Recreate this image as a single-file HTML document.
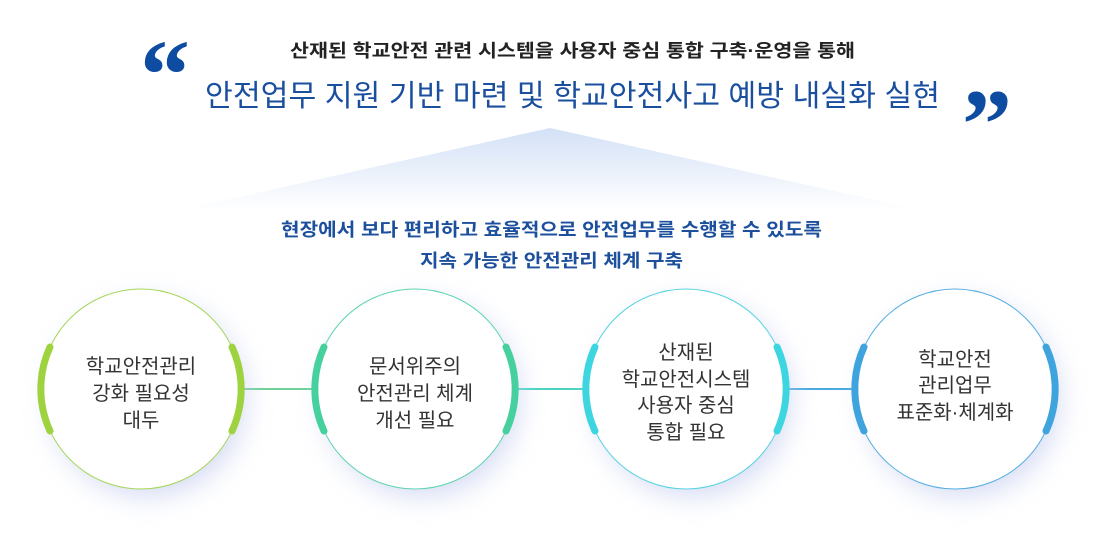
<!DOCTYPE html>
<html><head><meta charset="utf-8"><style>
html,body{margin:0;padding:0;background:#fff;}
body{width:1103px;height:538px;overflow:hidden;position:relative;font-family:"Liberation Sans","Noto Sans CJK KR",sans-serif;}
</style></head><body>
<svg width="1103" height="538" viewBox="0 0 1103 538" xmlns="http://www.w3.org/2000/svg" style="position:absolute;left:0;top:0">
<defs>
<linearGradient id="tri" x1="0" y1="0" x2="0" y2="1">
<stop offset="0" stop-color="#d3e1f7"/><stop offset="1" stop-color="#ffffff"/>
</linearGradient>
<filter id="sh" x="-50%" y="-50%" width="200%" height="200%">
<feGaussianBlur stdDeviation="14"/>
</filter>
</defs>
<polygon points="550,128 180,210 920,210" fill="url(#tri)"/>
<g font-family="Liberation Sans, Noto Sans CJK KR, sans-serif">
<text x="290" y="57" textLength="565" lengthAdjust="spacingAndGlyphs" font-size="18" font-weight="bold" fill="#222">산재된 학교안전 관련 시스템을 사용자 중심 통합 구축·운영을 통해</text>
<text x="205" y="106" textLength="735" lengthAdjust="spacingAndGlyphs" font-size="30" fill="#1a4f9f">안전업무 지원 기반 마련 및 학교안전사고 예방 내실화 실현</text>
<text x="281" y="236" textLength="541" lengthAdjust="spacingAndGlyphs" font-size="18" font-weight="bold" fill="#1c4f9c">현장에서 보다 편리하고 효율적으로 안전업무를 수행할 수 있도록</text>
<text x="420" y="267" textLength="263" lengthAdjust="spacingAndGlyphs" font-size="18" font-weight="bold" fill="#1c4f9c">지속 가능한 안전관리 체계 구축</text>
</g>
<text x="140" y="108" font-size="100" font-weight="bold" fill="#0d4ca0" font-family="Liberation Serif, serif">“</text>
<text x="962" y="158" font-size="100" font-weight="bold" fill="#0d4ca0" font-family="Liberation Serif, serif">”</text>
<line x1="242" y1="389" x2="315" y2="389" stroke="#6fd09a" stroke-width="2"/>
<line x1="515" y1="389" x2="586" y2="389" stroke="#48d4c4" stroke-width="2"/>
<line x1="786" y1="389" x2="855" y2="389" stroke="#4aa9dd" stroke-width="2"/>
<g font-family="Liberation Sans, Noto Sans CJK KR, sans-serif" font-size="20" fill="#333" text-anchor="middle">
<circle cx="148" cy="399" r="96" fill="#c7cff0" filter="url(#sh)" opacity="0.8"/>
<circle cx="141" cy="389" r="100" fill="#fff" stroke="#a6d65a" stroke-width="1"/>
<path d="M 50 347 A 101 101 0 0 0 50 431" fill="none" stroke="#9ed33f" stroke-width="7" stroke-linecap="round"/>
<path d="M 232 347 A 101 101 0 0 1 232 431" fill="none" stroke="#9ed33f" stroke-width="7" stroke-linecap="round"/>
<text x="141" y="373">학교안전관리</text><text x="141" y="400">강화 필요성</text><text x="141" y="427">대두</text>
<circle cx="422" cy="399" r="96" fill="#c7cff0" filter="url(#sh)" opacity="0.8"/>
<circle cx="415" cy="389" r="100" fill="#fff" stroke="#5fd4b0" stroke-width="1"/>
<path d="M 324 347 A 101 101 0 0 0 324 431" fill="none" stroke="#45d09e" stroke-width="7" stroke-linecap="round"/>
<path d="M 506 347 A 101 101 0 0 1 506 431" fill="none" stroke="#45d09e" stroke-width="7" stroke-linecap="round"/>
<text x="415" y="373">문서위주의</text><text x="415" y="400">안전관리 체계</text><text x="415" y="427">개선 필요</text>
<circle cx="693" cy="399" r="96" fill="#c7cff0" filter="url(#sh)" opacity="0.8"/>
<circle cx="686" cy="389" r="100" fill="#fff" stroke="#55d4e0" stroke-width="1"/>
<path d="M 595 347 A 101 101 0 0 0 595 431" fill="none" stroke="#3dd6e0" stroke-width="7" stroke-linecap="round"/>
<path d="M 777 347 A 101 101 0 0 1 777 431" fill="none" stroke="#3dd6e0" stroke-width="7" stroke-linecap="round"/>
<text x="686" y="359">산재된</text><text x="686" y="386">학교안전시스템</text><text x="686" y="412">사용자 중심</text><text x="686" y="439">통합 필요</text>
<circle cx="962" cy="399" r="96" fill="#c7cff0" filter="url(#sh)" opacity="0.8"/>
<circle cx="955" cy="389" r="100" fill="#fff" stroke="#55aee0" stroke-width="1"/>
<path d="M 864 347 A 101 101 0 0 0 864 431" fill="none" stroke="#3fa3dd" stroke-width="7" stroke-linecap="round"/>
<path d="M 1046 347 A 101 101 0 0 1 1046 431" fill="none" stroke="#3fa3dd" stroke-width="7" stroke-linecap="round"/>
<text x="955" y="366">학교안전</text><text x="955" y="392">관리업무</text><text x="955" y="419">표준화·체계화</text>
</g>
</svg>
</body></html>
